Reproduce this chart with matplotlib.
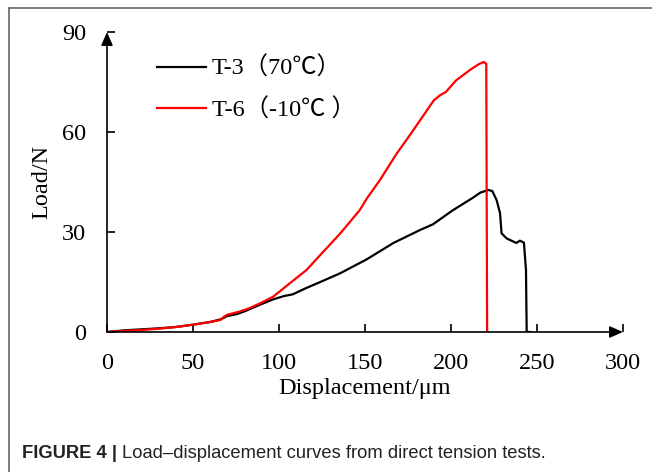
import matplotlib
matplotlib.use("Agg")
import matplotlib.pyplot as plt
from matplotlib.lines import Line2D

# T-3 (70C) curve
t3_x = [0, 10, 20, 30, 40, 50, 60, 66, 70, 75, 80, 89, 96.6, 103, 108, 115, 124,
        135.5, 151, 166.5, 182, 189.5, 201, 212.8, 217, 221.7, 224, 226.5, 228.5,
        229.4, 232.3, 238, 240, 242.4, 243.6, 244, 246]
t3_y = [0, 0.5, 0.8, 1.1, 1.5, 2.2, 3.0, 3.8, 4.8, 5.3, 6.2, 8.2, 9.8, 10.8, 11.3,
        13.0, 15.0, 17.6, 21.8, 26.7, 30.6, 32.3, 36.5, 40.3, 41.8, 42.6, 42.3,
        39.6, 35.7, 29.6, 28.1, 26.7, 27.4, 26.8, 18.6, 0, 0]

# T-6 (-10C) curve
t6_x = [0, 10, 20, 30, 42, 50, 60, 66, 68, 70, 77, 83, 89, 96.6, 106, 116, 125.6,
        135.5, 147, 151, 158.7, 168.4, 176, 184, 190, 193.6, 197, 203, 211, 216,
        219, 220.5, 221]
t6_y = [0, 0.3, 0.6, 1.0, 1.6, 2.2, 3.0, 3.6, 4.6, 5.2, 6.1, 7.2, 8.6, 10.6, 14.5,
        18.6, 24.0, 29.5, 36.6, 40.0, 45.6, 53.5, 59.0, 65.0, 69.5, 71.0, 72.0,
        75.5, 78.6, 80.3, 81.0, 80.5, 0]

x_ticks = [0, 50, 100, 150, 200, 250, 300]
y_ticks = [0, 30, 60, 90]
labels = ["T-3（70℃）", "T-6（-10℃ ）"]

serif = ["Liberation Serif", "Noto Sans CJK JP"]
fs = 17.5

fig = plt.figure(figsize=(6.52, 4.72), dpi=100)
ax = fig.add_axes([107 / 652, 140 / 472, 516 / 652, 300 / 472])

ax.plot(t3_x, t3_y, color="black", lw=1.6, label=labels[0])
ax.plot(t6_x, t6_y, color="#ff0000", lw=1.6, label=labels[1])

ax.set_xlim(0, 300)
ax.set_ylim(0, 90)
for s in ax.spines.values():
    s.set_visible(False)

# axes drawn as arrows
arr = dict(arrowstyle="-|>,head_length=0.8,head_width=0.35", color="black",
           lw=1.2, shrinkA=0, shrinkB=0)
ax.annotate("", xy=(300, 0), xytext=(0, 0), arrowprops=arr, annotation_clip=False)
ax.annotate("", xy=(0, 90), xytext=(0, 0), arrowprops=arr, annotation_clip=False)

ax.set_xticks(x_ticks)
ax.set_yticks(y_ticks)
ax.tick_params(direction="in", length=6, width=1.2, color="black")
ax.tick_params(axis="x", pad=15)
ax.tick_params(axis="y", pad=15)
for lab in ax.get_xticklabels() + ax.get_yticklabels():
    lab.set_family(serif)
    lab.set_fontsize(fs)

ax.set_xlabel("Displacement/μm", family=serif, fontsize=fs, labelpad=3)
ax.set_ylabel("Load/N", family=serif, fontsize=fs, labelpad=7)

leg = ax.legend(loc="upper left", bbox_to_anchor=(0.055, 0.99), frameon=False,
                handlelength=2.0, handletextpad=0.25, labelspacing=0.75,
                prop={"family": serif, "size": fs})

# frame lines of the figure panel
fig.add_artist(Line2D([9 / 652, 9 / 652], [0, 1 - 8 / 472], color="#666666", lw=1.2))
fig.add_artist(Line2D([9 / 652, 1], [1 - 8 / 472, 1 - 8 / 472], color="#666666", lw=1.2))

# caption
cap_y = 1 - 453 / 472
t1 = fig.text(22 / 652, cap_y, "FIGURE 4 | ", family=["Liberation Sans Narrow", "Liberation Sans"],
              weight="bold", fontsize=13.2, va="center", color="#222222")
fig.canvas.draw()
bb = t1.get_window_extent()
fig.text(bb.x1 / 652, cap_y, "Load–displacement curves from direct tension tests.",
         family=["Liberation Sans Narrow", "Liberation Sans"], fontsize=13.2,
         va="center", color="#222222")

fig.savefig("out.png", dpi=100)
